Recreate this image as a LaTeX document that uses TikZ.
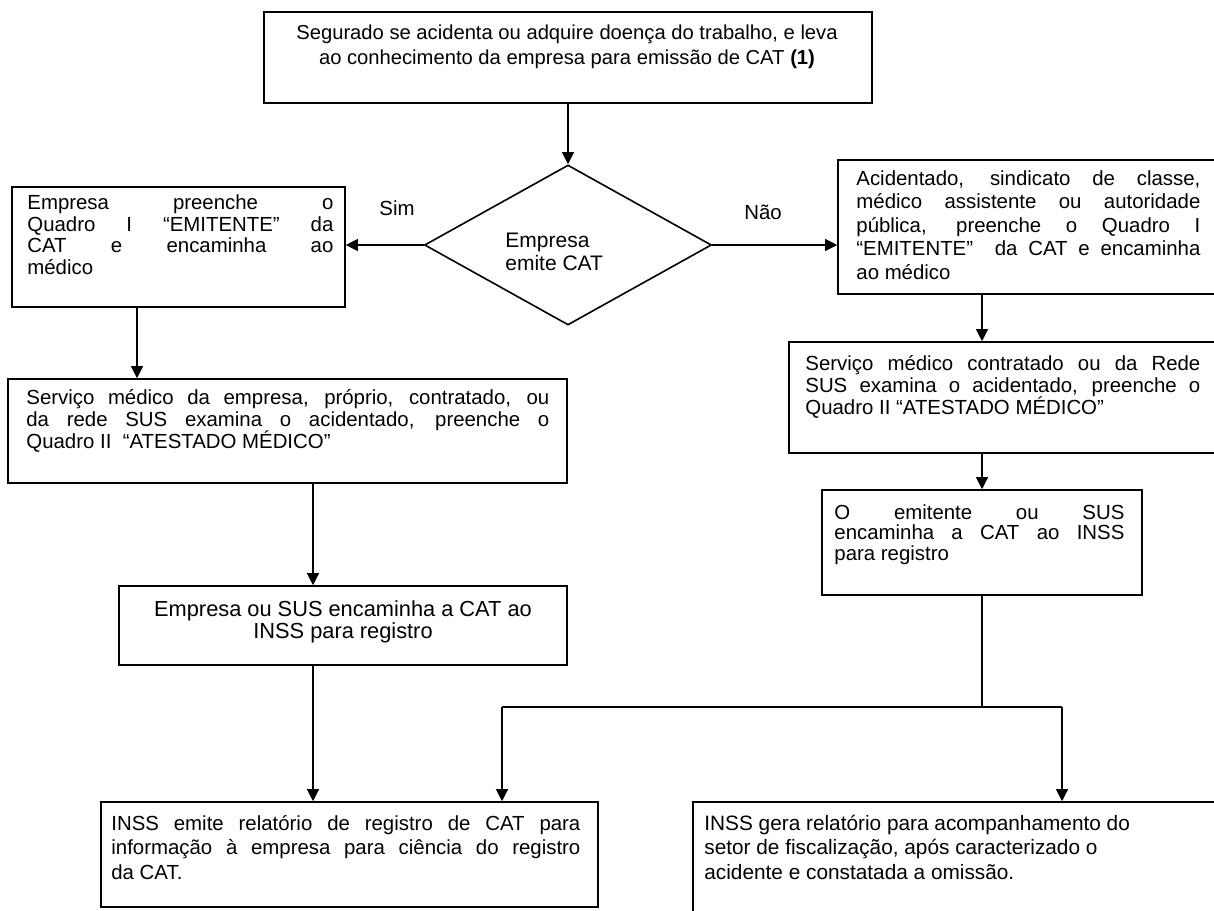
\documentclass[tikz,border=0pt]{standalone}
\usepackage{fontspec}
\setmainfont{Liberation Sans}
\usetikzlibrary{arrows.meta,shapes.geometric}
\newcommand\jl[2]{\makebox[#1][s]{#2}}
\newcommand\mkbox[5]{\node[box,minimum width={(#4-#2)*0.5pt},minimum height={(#5-#3)*0.5pt}] (#1) at ({(#2+#4)/2},{(#3+#5)/2}) {};}
\begin{document}
\begin{tikzpicture}[x=0.5pt,y=-0.5pt,
  box/.style={draw,line width=0.8pt,inner sep=0pt},
  txt/.style={inner sep=0pt,font=\fontsize{10.2}{11}\selectfont},
  arr/.style={line width=0.6pt,-{Triangle[length=6pt,width=6pt]}},
  ln/.style={line width=0.6pt}]
\useasboundingbox (0,0) rectangle (1214,910);
\fill[white] (0,0) rectangle (1214,910);
\begin{scope}
\clip (0,0) rectangle (1214,910);
% boxes
\mkbox{top}{264}{12}{872}{103}
\node[box,shape=diamond,minimum width=143.5pt,minimum height=80pt] (d) at (568,245) {};
\mkbox{L1}{12}{187}{345}{307}
\mkbox{L2}{8}{379}{567}{483}
\mkbox{L3}{119}{586}{567}{665}
\mkbox{B4}{101}{802}{598}{907}
\mkbox{R1}{838}{160}{1230}{294}
\mkbox{R2}{789}{342}{1230}{453}
\mkbox{R3}{822}{490}{1142}{595}
\mkbox{B5}{693}{802}{1230}{930}
% texts (anchor base = baseline of the last line)
\node[txt,anchor=base,align=center,font=\fontsize{10.1}{12.5}\selectfont] (ttop) at (567,64)
  {Segurado se acidenta ou adquire doença do trabalho, e leva\\ao conhecimento da empresa para emissão de CAT \textbf{(1)}};
\node[txt,anchor=base west,align=left,font=\fontsize{10.5}{11.5}\selectfont] (td) at (505,270) {Empresa\\emite CAT};
\node[txt,anchor=base west,align=left,font=\fontsize{10.2}{10.75}\selectfont] (tL1) at (27,274)
  {\jl{153pt}{Empresa preenche o}\\\jl{153pt}{Quadro I “EMITENTE” da}\\\jl{153pt}{CAT e encaminha ao}\\médico};
\node[txt,anchor=base west,align=left] (tL2) at (26,448)
  {\jl{261.5pt}{Serviço médico da empresa, próprio, contratado, ou}\\\jl{261.5pt}{da rede SUS examina o acidentado, preenche o}\\Quadro II\ \ “ATESTADO MÉDICO”};
\node[txt,anchor=base,align=center,font=\fontsize{10.9}{11}\selectfont] (tL3) at (343,638)
  {Empresa ou SUS encaminha a CAT ao\\INSS para registro};
\node[txt,anchor=base west,align=left,font=\fontsize{10.2}{12.25}\selectfont] (tB4) at (111,879)
  {\jl{234.5pt}{INSS emite relatório de registro de CAT para}\\\jl{234.5pt}{informação à empresa para ciência do registro}\\da CAT.};
\node[txt,anchor=base west,align=left,font=\fontsize{10.4}{12.25}\selectfont] (tB5) at (704,879)
  {INSS gera relatório para acompanhamento do\\setor de fiscalização, após caracterizado o\\acidente e constatada a omissão.};
\node[txt,anchor=base west,align=left,font=\fontsize{10.2}{11.75}\selectfont] (tR1) at (856,279)
  {\jl{172pt}{Acidentado, sindicato de classe,}\\\jl{172pt}{médico assistente ou autoridade}\\\jl{172pt}{pública, preenche o Quadro I}\\\jl{172pt}{“EMITENTE”\ \ da CAT e encaminha}\\ao médico};
\node[txt,anchor=base west,align=left] (tR2) at (805,414)
  {\jl{197.5pt}{Serviço médico contratado ou da Rede}\\\jl{197.5pt}{SUS examina o acidentado, preenche o}\\Quadro II “ATESTADO MÉDICO”};
\node[txt,anchor=base west,align=left,font=\fontsize{10.2}{10.25}\selectfont] (tR3) at (834,560)
  {\jl{145pt}{O emitente ou SUS}\\\jl{145pt}{encaminha a CAT ao INSS}\\para registro};
\node[txt] (sim) at (397,208) {Sim};
\node[txt] (nao) at (763,212) {Não};
% coordinates
\coordinate (c1) at (137,0);
\coordinate (c2) at (313,0);
\coordinate (c3) at (982,0);
\coordinate (j) at (982,707);
\coordinate (jl) at (502,707);
\coordinate (jr) at (1062,707);
% connectors
\draw[arr] (top.south -| d.north) -- (d.north);
\draw[arr] (d.west) -- (L1.east |- d.west);
\draw[arr] (d.east) -- (R1.west |- d.east);
\draw[arr] (L1.south -| c1) -- (L2.north -| c1);
\draw[arr] (L2.south -| c2) -- (L3.north -| c2);
\draw[arr] (L3.south -| c2) -- (B4.north -| c2);
\draw[arr] (R1.south -| c3) -- (R2.north -| c3);
\draw[arr] (R2.south -| c3) -- (R3.north);
\draw[ln] (R3.south) -- (j);
\draw[ln] (jl) -- (jr);
\draw[arr] (jl) -- (B4.north -| jl);
\draw[arr] (jr) -- (B5.north -| jr);
\end{scope}
\end{tikzpicture}
\end{document}
